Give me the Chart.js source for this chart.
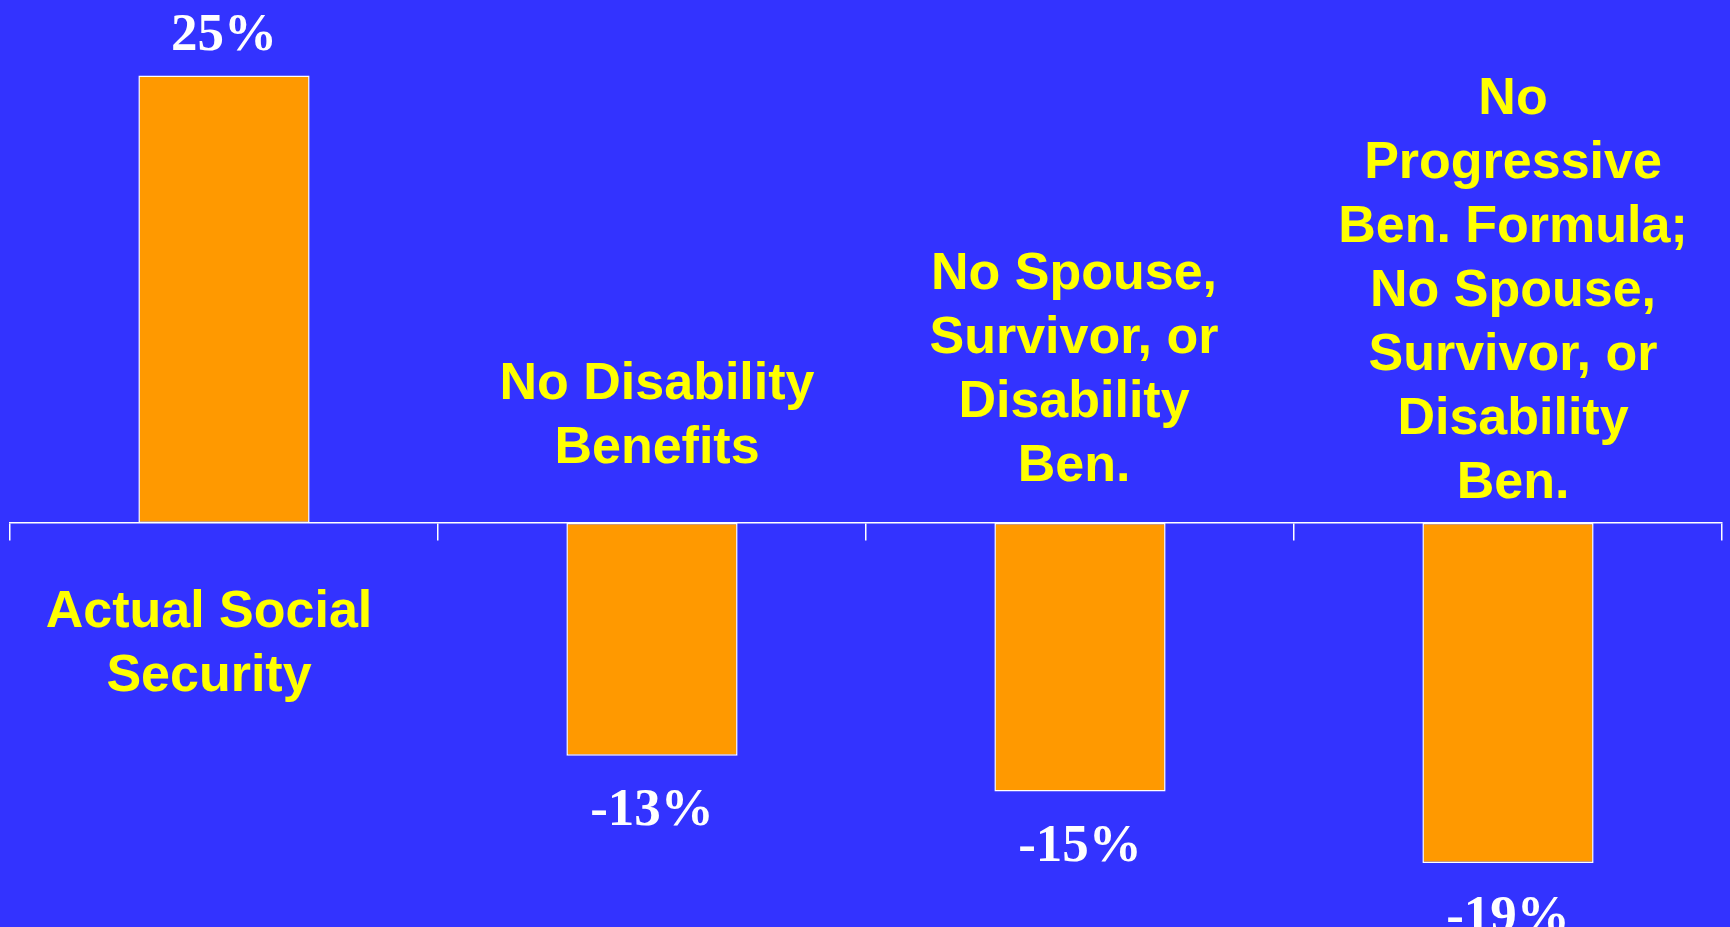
<!DOCTYPE html>
<html>
<head>
<meta charset="utf-8">
<title>Social Security scenarios</title>
<script src="https://cdn.jsdelivr.net/npm/chart.js@4/dist/chart.umd.min.js"></script>
<style>
  html, body { margin: 0; padding: 0; background: #3333FF; overflow: hidden; }
  canvas { display: block; background: #3333FF; }
</style>
</head>
<body>
<canvas id="chart" width="1730" height="927"></canvas>
<script>
// Categories (each entry is the list of lines of its label)
const categories = [
  ["Actual Social", "Security"],
  ["No Disability", "Benefits"],
  ["No Spouse,", "Survivor, or", "Disability", "Ben."],
  ["No", "Progressive", "Ben. Formula;", "No Spouse,", "Survivor, or", "Disability", "Ben."]
];

// Percent values per scenario
const values = [25, -13, -15, -19];

// Value labels shown beside each bar
const valueLabels = values.map(v => v + "%");

// Where each category label sits relative to the zero line:
// anchor 'top' = first baseline below the axis, 'bottom' = last baseline above it
const labelPlacement = [
  { anchor: "top", dy: 104, dx: -15 },
  { anchor: "bottom", dy: -60, dx: 5 },
  { anchor: "bottom", dy: -42, dx: -6 },
  { anchor: "bottom", dy: -25, dx: 5 }
];

const annotate = {
  id: "annotate",
  afterDatasetsDraw(chart) {
    const ctx = chart.ctx;
    const meta = chart.getDatasetMeta(0);
    const xScale = chart.scales.x;
    const zeroY = chart.scales.y.getPixelForValue(0);

    ctx.save();
    ctx.textAlign = "center";
    ctx.textBaseline = "alphabetic";

    // value labels
    ctx.fillStyle = "#FFFFFF";
    ctx.font = "bold 53px 'Liberation Serif', 'Times New Roman', serif";
    meta.data.forEach((bar, i) => {
      const v = values[i];
      const y = v >= 0 ? bar.y - 26 : bar.y + 69;
      ctx.fillText(valueLabels[i], bar.x, y);
    });

    // category labels
    ctx.fillStyle = "#FFFF00";
    ctx.font = "bold 52px 'Liberation Sans', Arial, sans-serif";
    const lineH = 64;
    categories.forEach((lines, i) => {
      const p = labelPlacement[i];
      const cx = xScale.getPixelForValue(i) + p.dx;
      let y0;
      if (p.anchor === "top") {
        y0 = zeroY + p.dy;
      } else {
        y0 = zeroY + p.dy - (lines.length - 1) * lineH;
      }
      lines.forEach((line, j) => ctx.fillText(line, cx, y0 + j * lineH));
    });
    ctx.restore();
  }
};

new Chart(document.getElementById("chart"), {
  type: "bar",
  data: {
    labels: categories,
    datasets: [{
      data: values,
      backgroundColor: "#FF9900",
      borderColor: "#FFFFFF",
      borderWidth: 1.5,
      borderSkipped: false,
      barPercentage: 0.4,
      categoryPercentage: 1.0
    }]
  },
  options: {
    responsive: false,
    animation: false,
    events: [],
    layout: { padding: { left: 10, right: 8, top: 0, bottom: 0 } },
    plugins: {
      legend: { display: false },
      tooltip: { enabled: false },
      title: { display: false }
    },
    scales: {
      x: {
        type: "category",
        position: { y: 0 },
        afterFit(scale) { scale.height = 0; },
        offset: true,
        grid: {
          offset: true,
          drawOnChartArea: false,
          drawTicks: true,
          tickLength: 17,
          color: "#FFFFFF",
          lineWidth: 1.5
        },
        border: { display: true, color: "#FFFFFF", width: 1.5 },
        ticks: { display: false }
      },
      y: {
        display: false,
        min: -22.57,
        max: 29.22
      }
    }
  },
  plugins: [annotate]
});
</script>
</body>
</html>
